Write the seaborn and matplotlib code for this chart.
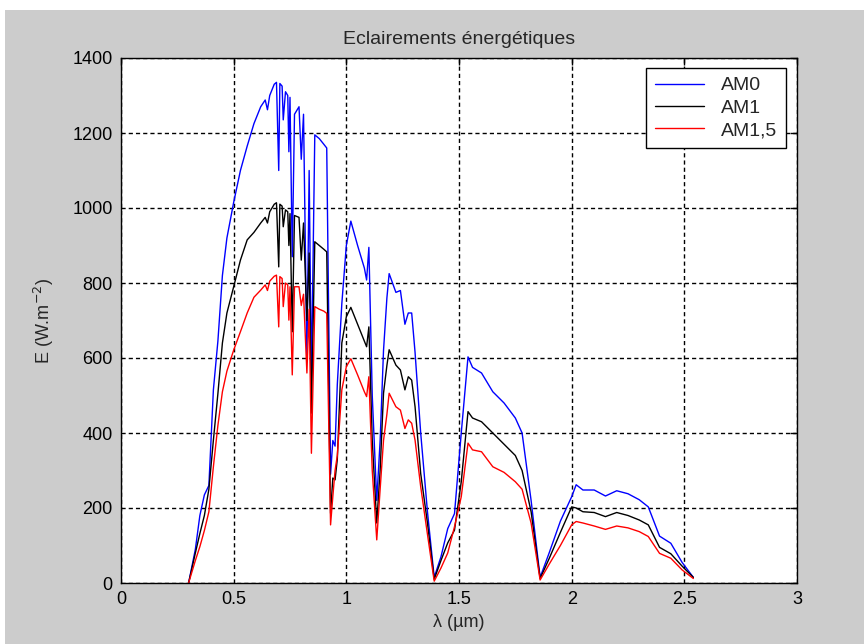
# Eclairements énergétiques : AM0 / AM1 / AM1,5

import numpy as np
import matplotlib.pyplot as plt
import pandas as pd
import seaborn as sns
from matplotlib.patches import Rectangle
from matplotlib.lines import Line2D

# -----------------------------
# Data
# -----------------------------
wavelength = [0.30, 0.33, 0.35, 0.37, 0.39, 0.41, 0.43, 0.45, 0.47, 0.50,
              0.53, 0.56, 0.59, 0.62, 0.64, 0.65, 0.66, 0.68, 0.69, 0.70,
              0.705, 0.715, 0.72, 0.73, 0.74, 0.745, 0.75, 0.76, 0.77, 0.79,
              0.80, 0.81, 0.825, 0.835, 0.845, 0.86, 0.88, 0.90, 0.913, 0.93,
              0.94, 0.95, 0.96, 0.98, 1.00, 1.02, 1.05, 1.08, 1.09, 1.10,
              1.115, 1.135, 1.15, 1.165, 1.18, 1.19, 1.22, 1.24, 1.26, 1.275,
              1.29, 1.305, 1.33, 1.36, 1.39, 1.42, 1.45, 1.48, 1.51, 1.54,
              1.56, 1.60, 1.65, 1.70, 1.75, 1.78, 1.82, 1.86, 1.90, 1.95,
              2.00, 2.02, 2.05, 2.10, 2.15, 2.20, 2.25, 2.30, 2.34, 2.39,
              2.44, 2.49, 2.54]

am0 = [0, 90, 180, 235, 260, 515, 645, 820, 920, 1015,
       1100, 1165, 1225, 1270, 1288, 1262, 1300, 1330, 1335, 1100,
       1332, 1325, 1235, 1310, 1300, 1150, 1295, 870, 1250, 1270,
       1130, 1250, 600, 1100, 540, 1195, 1185, 1170, 1160, 290,
       380, 365, 530, 745, 900, 965, 900, 840, 808, 895,
       500, 220, 380, 620, 760, 825, 775, 780, 690, 720,
       720, 615, 400, 190, 15, 70, 145, 185, 400, 603,
       575, 560, 510, 480, 440, 400, 220, 15, 80, 165,
       230, 262, 248, 248, 232, 246, 238, 222, 203, 125,
       106, 55, 15]

am1 = [0, 80, 132, 180, 250, 381, 505, 640, 720, 790,
       861, 915, 935, 960, 975, 960, 990, 1010, 1014, 843,
       1010, 1005, 950, 995, 990, 900, 985, 670, 980, 975,
       861, 960, 700, 880, 453, 910, 900, 890, 883, 186,
       280, 275, 330, 640, 710, 735, 690, 645, 630, 683,
       380, 160, 300, 506, 580, 622, 581, 568, 515, 550,
       541, 470, 292, 160, 10, 60, 107, 141, 270, 457,
       440, 430, 400, 370, 340, 300, 190, 12, 65, 135,
       203, 200, 190, 188, 177, 188, 180, 168, 155, 95,
       78, 45, 15]

am15 = [0, 60, 97, 140, 190, 310, 420, 510, 565, 621,
        670, 720, 762, 781, 795, 780, 805, 818, 821, 683,
        817, 812, 737, 800, 795, 701, 790, 555, 790, 790,
        740, 770, 560, 730, 346, 737, 730, 725, 719, 155,
        230, 300, 340, 515, 577, 598, 555, 510, 497, 550,
        300, 115, 250, 380, 450, 506, 470, 461, 412, 435,
        426, 381, 257, 130, 5, 40, 80, 150, 230, 373,
        355, 350, 310, 295, 270, 250, 160, 8, 50, 100,
        155, 164, 160, 152, 143, 152, 147, 137, 124, 79,
        66, 35, 12]

series_names = ["AM0", "AM1", "AM1,5"]
series_colors = ["#0000ff", "#000000", "#ff0000"]

df = pd.concat([
    pd.DataFrame({"lambda": wavelength, "E": vals, "serie": name})
    for name, vals in zip(series_names, [am0, am1, am15])
])

# -----------------------------
# Figure
# -----------------------------
sns.set_style("white")
plt.rcParams["font.family"] = ["Liberation Sans", "DejaVu Sans"]

fig = plt.figure(figsize=(8.64, 6.44), dpi=100, facecolor="white")
# grey MATLAB-like window area
fig.patches.append(Rectangle((5 / 864, 0), 1, (644 - 10) / 644,
                             transform=fig.transFigure, facecolor="#cccccc",
                             edgecolor="none", zorder=-10))

ax = fig.add_axes([121 / 864, 61 / 644, 676 / 864, 525 / 644])
ax.set_facecolor("white")

sns.lineplot(data=df, x="lambda", y="E", hue="serie", hue_order=series_names,
             palette=series_colors, estimator=None, sort=False, linewidth=1.0,
             legend=False, ax=ax)

ax.set_xlim(0, 3)
ax.set_ylim(0, 1400)
ax.set_xticks([0, 0.5, 1, 1.5, 2, 2.5, 3])
ax.set_xticklabels(["0", "0.5", "1", "1.5", "2", "2.5", "3"])
ax.set_yticks(range(0, 1401, 200))

ax.grid(True, color="black", linestyle=(0, (3, 2.2)), linewidth=1.0)
ax.tick_params(direction="in", top=True, right=True, length=5, width=1,
               labelsize=13, pad=6, colors="black")
for sp in ax.spines.values():
    sp.set_color("black")
    sp.set_linewidth(1.0)

ax.set_title("Eclairements énergétiques", fontsize=14, pad=10)
ax.set_xlabel("λ (µm)", fontsize=13, labelpad=4)
ax.set_ylabel("E (W.m$^{-2}$)", fontsize=13, labelpad=12)

handles = [Line2D([], [], color=c, lw=1.0) for c in series_colors]
leg = ax.legend(handles, series_names, loc="upper right",
                bbox_to_anchor=(0.984, 0.981), borderaxespad=0,
                fontsize=14, frameon=True, fancybox=False,
                framealpha=1, edgecolor="black", handlelength=2.5,
                handletextpad=0.9, labelspacing=0.25, borderpad=0.45)
leg.get_frame().set_linewidth(1.0)

fig.savefig("out.png", dpi=100, facecolor=fig.get_facecolor())
